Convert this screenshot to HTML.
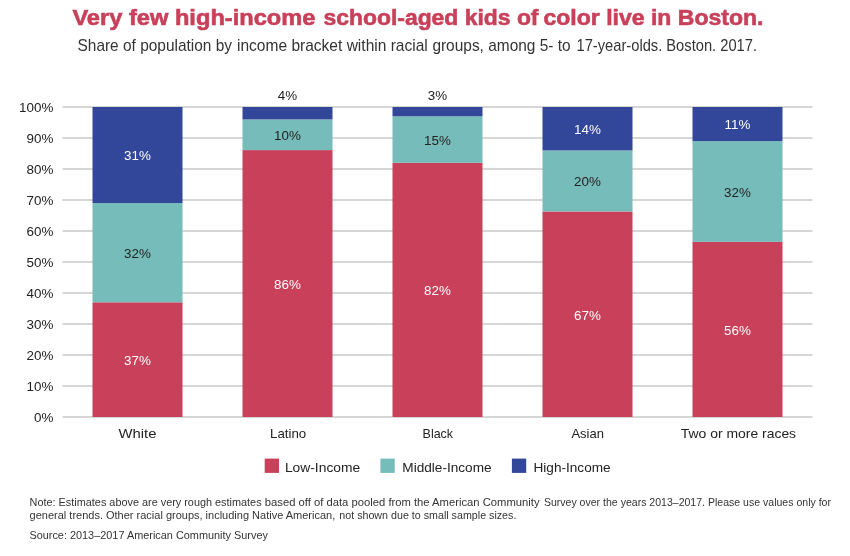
<!DOCTYPE html>
<html lang="en"><head><meta charset="utf-8"><title>Very few high-income school-aged kids of color live in Boston.</title>
<style>
html,body{margin:0;padding:0;background:#fff;}
body{width:850px;height:556px;overflow:hidden;font-family:"Liberation Sans",sans-serif;}
svg{display:block;font-family:"Liberation Sans",sans-serif;}
.t{fill:#c8405a;stroke:#c8405a;stroke-width:0.6px;font-weight:bold;font-size:22.4px;}
.st{fill:#333;font-size:16.4px;}
.ax{fill:#222;font-size:13.4px;}
.w{fill:#fff;font-size:13.4px;}
.d{fill:#222;font-size:13.4px;}
.n{fill:#333;font-size:10.6px;}
</style></head><body>
<svg width="850" height="556" viewBox="0 0 850 556">
<rect width="850" height="556" fill="#fff"/>
<text class="t" y="25.4"><tspan x="72.4" textLength="243.1" lengthAdjust="spacingAndGlyphs">Very few high-income</tspan> <tspan x="323.5" textLength="215.0" lengthAdjust="spacingAndGlyphs">school-aged kids of</tspan> <tspan x="543.5" textLength="219.9" lengthAdjust="spacingAndGlyphs">color live in Boston.</tspan></text>
<text class="st" y="51.3"><tspan x="77.5" textLength="154.5" lengthAdjust="spacingAndGlyphs">Share of population by</tspan> <tspan x="237.0" textLength="190.8" lengthAdjust="spacingAndGlyphs">income bracket within racial</tspan> <tspan x="432.4" textLength="138.2" lengthAdjust="spacingAndGlyphs">groups, among 5- to</tspan> <tspan x="576.5" textLength="180.5" lengthAdjust="spacingAndGlyphs">17-year-olds. Boston. 2017.</tspan></text>
<rect x="62.5" y="416.30" width="750" height="1.4" fill="#c5c5c5"/>
<text class="ax" x="53.3" y="422.4" text-anchor="end">0%</text>
<rect x="62.5" y="385.30" width="750" height="1.4" fill="#c5c5c5"/>
<text class="ax" x="53.3" y="391.4" text-anchor="end">10%</text>
<rect x="62.5" y="354.30" width="750" height="1.4" fill="#c5c5c5"/>
<text class="ax" x="53.3" y="360.4" text-anchor="end">20%</text>
<rect x="62.5" y="323.30" width="750" height="1.4" fill="#c5c5c5"/>
<text class="ax" x="53.3" y="329.4" text-anchor="end">30%</text>
<rect x="62.5" y="292.30" width="750" height="1.4" fill="#c5c5c5"/>
<text class="ax" x="53.3" y="298.4" text-anchor="end">40%</text>
<rect x="62.5" y="261.30" width="750" height="1.4" fill="#c5c5c5"/>
<text class="ax" x="53.3" y="267.4" text-anchor="end">50%</text>
<rect x="62.5" y="230.30" width="750" height="1.4" fill="#c5c5c5"/>
<text class="ax" x="53.3" y="236.4" text-anchor="end">60%</text>
<rect x="62.5" y="199.30" width="750" height="1.4" fill="#c5c5c5"/>
<text class="ax" x="53.3" y="205.4" text-anchor="end">70%</text>
<rect x="62.5" y="168.30" width="750" height="1.4" fill="#c5c5c5"/>
<text class="ax" x="53.3" y="174.4" text-anchor="end">80%</text>
<rect x="62.5" y="137.30" width="750" height="1.4" fill="#c5c5c5"/>
<text class="ax" x="53.3" y="143.4" text-anchor="end">90%</text>
<rect x="62.5" y="106.30" width="750" height="1.4" fill="#c5c5c5"/>
<text class="ax" x="53.3" y="112.4" text-anchor="end">100%</text>
<rect x="92.5" y="302.30" width="90" height="114.70" fill="#c8405a"/>
<text class="w" x="137.5" y="364.9" text-anchor="middle">37%</text>
<rect x="92.5" y="203.10" width="90" height="99.20" fill="#76bcba"/>
<text class="d" x="137.5" y="258.0" text-anchor="middle">32%</text>
<rect x="92.5" y="107.00" width="90" height="96.10" fill="#33479a"/>
<text class="w" x="137.5" y="160.4" text-anchor="middle">31%</text>
<text class="ax" x="118.60" y="437.6" textLength="37.9" lengthAdjust="spacingAndGlyphs">White</text>
<rect x="242.5" y="150.09" width="90" height="266.91" fill="#c8405a"/>
<text class="w" x="287.5" y="288.8" text-anchor="middle">86%</text>
<rect x="242.5" y="119.40" width="90" height="30.69" fill="#76bcba"/>
<text class="d" x="287.5" y="140.0" text-anchor="middle">10%</text>
<rect x="242.5" y="107.00" width="90" height="12.40" fill="#33479a"/>
<text class="d" x="287.5" y="100.0" text-anchor="middle">4%</text>
<text class="ax" x="270.00" y="437.6" textLength="36.2" lengthAdjust="spacingAndGlyphs">Latino</text>
<rect x="392.5" y="162.80" width="90" height="254.20" fill="#c8405a"/>
<text class="w" x="437.5" y="295.2" text-anchor="middle">82%</text>
<rect x="392.5" y="116.30" width="90" height="46.50" fill="#76bcba"/>
<text class="d" x="437.5" y="144.9" text-anchor="middle">15%</text>
<rect x="392.5" y="107.00" width="90" height="9.30" fill="#33479a"/>
<text class="d" x="437.5" y="100.0" text-anchor="middle">3%</text>
<text class="ax" x="422.60" y="437.6" textLength="30.5" lengthAdjust="spacingAndGlyphs">Black</text>
<rect x="542.5" y="211.47" width="90" height="205.53" fill="#c8405a"/>
<text class="w" x="587.5" y="319.5" text-anchor="middle">67%</text>
<rect x="542.5" y="150.40" width="90" height="61.07" fill="#76bcba"/>
<text class="d" x="587.5" y="186.2" text-anchor="middle">20%</text>
<rect x="542.5" y="107.00" width="90" height="43.40" fill="#33479a"/>
<text class="w" x="587.5" y="134.0" text-anchor="middle">14%</text>
<text class="ax" x="571.40" y="437.6" textLength="32.5" lengthAdjust="spacingAndGlyphs">Asian</text>
<rect x="692.5" y="241.85" width="90" height="175.15" fill="#c8405a"/>
<text class="w" x="737.5" y="334.7" text-anchor="middle">56%</text>
<rect x="692.5" y="141.10" width="90" height="100.75" fill="#76bcba"/>
<text class="d" x="737.5" y="196.8" text-anchor="middle">32%</text>
<rect x="692.5" y="107.00" width="90" height="34.10" fill="#33479a"/>
<text class="w" x="737.5" y="129.4" text-anchor="middle">11%</text>
<text class="ax" x="680.80" y="437.6" textLength="115.3" lengthAdjust="spacingAndGlyphs">Two or more races</text>
<rect x="264.7" y="458.6" width="14.3" height="14.3" fill="#c8405a"/>
<text class="ax" x="284.9" y="471.6" textLength="75.3" lengthAdjust="spacingAndGlyphs">Low-Income</text>
<rect x="380.4" y="458.6" width="14.3" height="14.3" fill="#76bcba"/>
<text class="ax" x="402.3" y="471.6" textLength="89.3" lengthAdjust="spacingAndGlyphs">Middle-Income</text>
<rect x="511.9" y="458.6" width="14.3" height="14.3" fill="#33479a"/>
<text class="ax" x="533.5" y="471.6" textLength="77.1" lengthAdjust="spacingAndGlyphs">High-Income</text>
<text class="n" y="505.7"><tspan x="29.6" textLength="232.0" lengthAdjust="spacingAndGlyphs">Note: Estimates above are very rough estimates</tspan> <tspan x="264.8" textLength="274.8" lengthAdjust="spacingAndGlyphs">based off of data pooled from the American Community</tspan> <tspan x="543.9" textLength="287.1" lengthAdjust="spacingAndGlyphs">Survey over the years 2013–2017. Please use values only for</tspan></text>
<text class="n" y="518.5"><tspan x="29.6" textLength="305.6" lengthAdjust="spacingAndGlyphs">general trends. Other racial groups, including Native American,</tspan> <tspan x="339.3" textLength="177.1" lengthAdjust="spacingAndGlyphs">not shown due to small sample sizes.</tspan></text>
<text class="n" x="29.4" y="539.2" textLength="238.5" lengthAdjust="spacingAndGlyphs">Source: 2013–2017 American Community Survey</text>
</svg>
</body></html>
